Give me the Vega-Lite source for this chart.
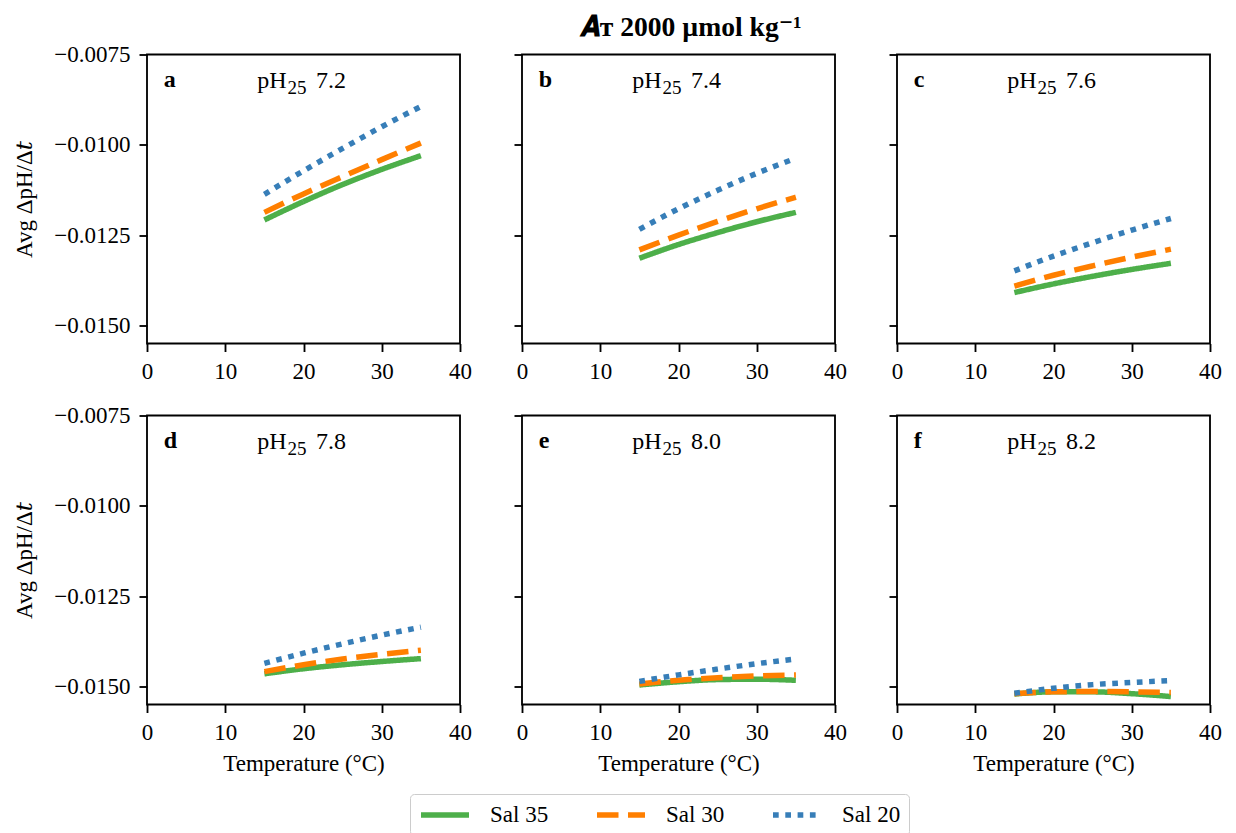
{
  "$schema": "https://vega.github.io/schema/vega-lite/v6.json",
  "padding": {"left": 12, "top": 13.5, "right": 10, "bottom": 10},
  "title": {
    "text": "𝑨ᴛ 2000 µmol kg⁻¹",
    "font": "Liberation Serif, DejaVu Serif",
    "fontSize": 27.6,
    "fontWeight": "bold",
    "color": "black",
    "anchor": "middle",
    "dx": 73,
    "offset": 1
  },
  "datasets": {
    "curves": [
      {"panel": "a", "series": "Sal 35", "temp": 15, "rate": -0.01208},
      {"panel": "a", "series": "Sal 35", "temp": 20, "rate": -0.01157},
      {"panel": "a", "series": "Sal 35", "temp": 25, "rate": -0.01110},
      {"panel": "a", "series": "Sal 35", "temp": 30, "rate": -0.01068},
      {"panel": "a", "series": "Sal 35", "temp": 35, "rate": -0.01030},
      {"panel": "b", "series": "Sal 35", "temp": 15, "rate": -0.01314},
      {"panel": "b", "series": "Sal 35", "temp": 20, "rate": -0.01276},
      {"panel": "b", "series": "Sal 35", "temp": 25, "rate": -0.01243},
      {"panel": "b", "series": "Sal 35", "temp": 30, "rate": -0.01213},
      {"panel": "b", "series": "Sal 35", "temp": 35, "rate": -0.01187},
      {"panel": "c", "series": "Sal 35", "temp": 15, "rate": -0.01409},
      {"panel": "c", "series": "Sal 35", "temp": 20, "rate": -0.01385},
      {"panel": "c", "series": "Sal 35", "temp": 25, "rate": -0.01364},
      {"panel": "c", "series": "Sal 35", "temp": 30, "rate": -0.01345},
      {"panel": "c", "series": "Sal 35", "temp": 35, "rate": -0.01328},
      {"panel": "d", "series": "Sal 35", "temp": 15, "rate": -0.01465},
      {"panel": "d", "series": "Sal 35", "temp": 20, "rate": -0.01451},
      {"panel": "d", "series": "Sal 35", "temp": 25, "rate": -0.01440},
      {"panel": "d", "series": "Sal 35", "temp": 30, "rate": -0.01431},
      {"panel": "d", "series": "Sal 35", "temp": 35, "rate": -0.01423},
      {"panel": "e", "series": "Sal 35", "temp": 15, "rate": -0.01496},
      {"panel": "e", "series": "Sal 35", "temp": 20, "rate": -0.01487},
      {"panel": "e", "series": "Sal 35", "temp": 25, "rate": -0.01481},
      {"panel": "e", "series": "Sal 35", "temp": 30, "rate": -0.01480},
      {"panel": "e", "series": "Sal 35", "temp": 35, "rate": -0.01483},
      {"panel": "f", "series": "Sal 35", "temp": 15, "rate": -0.01521},
      {"panel": "f", "series": "Sal 35", "temp": 20, "rate": -0.01515},
      {"panel": "f", "series": "Sal 35", "temp": 25, "rate": -0.01515},
      {"panel": "f", "series": "Sal 35", "temp": 30, "rate": -0.01520},
      {"panel": "f", "series": "Sal 35", "temp": 35, "rate": -0.01528},
      {"panel": "a", "series": "Sal 30", "temp": 15, "rate": -0.01187},
      {"panel": "a", "series": "Sal 30", "temp": 20, "rate": -0.01136},
      {"panel": "a", "series": "Sal 30", "temp": 25, "rate": -0.01088},
      {"panel": "a", "series": "Sal 30", "temp": 30, "rate": -0.01041},
      {"panel": "a", "series": "Sal 30", "temp": 35, "rate": -0.00995},
      {"panel": "b", "series": "Sal 30", "temp": 15, "rate": -0.01291},
      {"panel": "b", "series": "Sal 30", "temp": 20, "rate": -0.01250},
      {"panel": "b", "series": "Sal 30", "temp": 25, "rate": -0.01212},
      {"panel": "b", "series": "Sal 30", "temp": 30, "rate": -0.01177},
      {"panel": "b", "series": "Sal 30", "temp": 35, "rate": -0.01145},
      {"panel": "c", "series": "Sal 30", "temp": 15, "rate": -0.01391},
      {"panel": "c", "series": "Sal 30", "temp": 20, "rate": -0.01361},
      {"panel": "c", "series": "Sal 30", "temp": 25, "rate": -0.01335},
      {"panel": "c", "series": "Sal 30", "temp": 30, "rate": -0.01311},
      {"panel": "c", "series": "Sal 30", "temp": 35, "rate": -0.01289},
      {"panel": "d", "series": "Sal 30", "temp": 15, "rate": -0.01459},
      {"panel": "d", "series": "Sal 30", "temp": 20, "rate": -0.01440},
      {"panel": "d", "series": "Sal 30", "temp": 25, "rate": -0.01424},
      {"panel": "d", "series": "Sal 30", "temp": 30, "rate": -0.01411},
      {"panel": "d", "series": "Sal 30", "temp": 35, "rate": -0.01400},
      {"panel": "e", "series": "Sal 30", "temp": 15, "rate": -0.01493},
      {"panel": "e", "series": "Sal 30", "temp": 20, "rate": -0.01483},
      {"panel": "e", "series": "Sal 30", "temp": 25, "rate": -0.01476},
      {"panel": "e", "series": "Sal 30", "temp": 30, "rate": -0.01471},
      {"panel": "e", "series": "Sal 30", "temp": 35, "rate": -0.01468},
      {"panel": "f", "series": "Sal 30", "temp": 15, "rate": -0.01520},
      {"panel": "f", "series": "Sal 30", "temp": 20, "rate": -0.01515},
      {"panel": "f", "series": "Sal 30", "temp": 25, "rate": -0.01514},
      {"panel": "f", "series": "Sal 30", "temp": 30, "rate": -0.01515},
      {"panel": "f", "series": "Sal 30", "temp": 35, "rate": -0.01517},
      {"panel": "a", "series": "Sal 20", "temp": 15, "rate": -0.01137},
      {"panel": "a", "series": "Sal 20", "temp": 20, "rate": -0.01072},
      {"panel": "a", "series": "Sal 20", "temp": 25, "rate": -0.01010},
      {"panel": "a", "series": "Sal 20", "temp": 30, "rate": -0.00950},
      {"panel": "a", "series": "Sal 20", "temp": 35, "rate": -0.00894},
      {"panel": "b", "series": "Sal 20", "temp": 15, "rate": -0.01234},
      {"panel": "b", "series": "Sal 20", "temp": 20, "rate": -0.01177},
      {"panel": "b", "series": "Sal 20", "temp": 25, "rate": -0.01126},
      {"panel": "b", "series": "Sal 20", "temp": 30, "rate": -0.01079},
      {"panel": "b", "series": "Sal 20", "temp": 35, "rate": -0.01037},
      {"panel": "c", "series": "Sal 20", "temp": 15, "rate": -0.01349},
      {"panel": "c", "series": "Sal 20", "temp": 20, "rate": -0.01308},
      {"panel": "c", "series": "Sal 20", "temp": 25, "rate": -0.01271},
      {"panel": "c", "series": "Sal 20", "temp": 30, "rate": -0.01236},
      {"panel": "c", "series": "Sal 20", "temp": 35, "rate": -0.01204},
      {"panel": "d", "series": "Sal 20", "temp": 15, "rate": -0.01436},
      {"panel": "d", "series": "Sal 20", "temp": 20, "rate": -0.01408},
      {"panel": "d", "series": "Sal 20", "temp": 25, "rate": -0.01382},
      {"panel": "d", "series": "Sal 20", "temp": 30, "rate": -0.01358},
      {"panel": "d", "series": "Sal 20", "temp": 35, "rate": -0.01336},
      {"panel": "e", "series": "Sal 20", "temp": 15, "rate": -0.01486},
      {"panel": "e", "series": "Sal 20", "temp": 20, "rate": -0.01468},
      {"panel": "e", "series": "Sal 20", "temp": 25, "rate": -0.01452},
      {"panel": "e", "series": "Sal 20", "temp": 30, "rate": -0.01437},
      {"panel": "e", "series": "Sal 20", "temp": 35, "rate": -0.01424},
      {"panel": "f", "series": "Sal 20", "temp": 15, "rate": -0.01519},
      {"panel": "f", "series": "Sal 20", "temp": 20, "rate": -0.01505},
      {"panel": "f", "series": "Sal 20", "temp": 25, "rate": -0.01495},
      {"panel": "f", "series": "Sal 20", "temp": 30, "rate": -0.01489},
      {"panel": "f", "series": "Sal 20", "temp": 35, "rate": -0.01484}
    ],
    "panels": [
      {"panel": "a", "base": "pH", "sub": "25", "value": "7.2"},
      {"panel": "b", "base": "pH", "sub": "25", "value": "7.4"},
      {"panel": "c", "base": "pH", "sub": "25", "value": "7.6"},
      {"panel": "d", "base": "pH", "sub": "25", "value": "7.8"},
      {"panel": "e", "base": "pH", "sub": "25", "value": "8.0"},
      {"panel": "f", "base": "pH", "sub": "25", "value": "8.2"}
    ]
  },
  "columns": 3,
  "bounds": "flush",
  "spacing": {"row": 72, "column": 62},
  "resolve": {
    "scale": {"color": "shared", "strokeDash": "shared"},
    "legend": {"color": "shared", "strokeDash": "shared"}
  },
  "concat": [
    {
      "width": 313, "height": 289,
      "layer": [
        {
          "data": {"name": "curves"},
          "transform": [{"filter": "datum.panel === 'a'"}],
          "mark": {"type": "line", "interpolate": "monotone", "strokeWidth": 5.5},
          "encoding": {
            "x": {"field": "temp", "type": "quantitative", "scale": {"domain": [0, 40], "nice": false}, "axis": {"values": [0, 10, 20, 30, 40], "title": null}},
            "y": {"field": "rate", "type": "quantitative", "scale": {"domain": [-0.0155, -0.0075], "nice": false, "zero": false}, "axis": {"values": [-0.0075, -0.01, -0.0125, -0.015], "format": ".4f", "title": "Avg ΔpH/Δ𝑡"}},
            "color": {"field": "series", "type": "nominal", "scale": {"domain": ["Sal 35", "Sal 30", "Sal 20"], "range": ["#4daf4a", "#ff7f00", "#377eb8"]}, "legend": {"title": null}},
            "strokeDash": {"field": "series", "type": "nominal", "scale": {"domain": ["Sal 35", "Sal 30", "Sal 20"], "range": [[1, 0], [21.5, 9.5], [5.7, 6.6]]}, "legend": {"title": null}}
          }
        },
        {
          "data": {"name": "panels"},
          "transform": [{"filter": "datum.panel === 'a'"}],
          "mark": {"type": "text", "align": "left", "baseline": "alphabetic", "fontWeight": "bold", "fontSize": 24},
          "encoding": {"x": {"datum": 2.15, "type": "quantitative"}, "y": {"datum": -0.0084, "type": "quantitative"}, "text": {"field": "panel"}}
        },
        {
          "data": {"name": "panels"},
          "transform": [{"filter": "datum.panel === 'a'"}],
          "mark": {"type": "text", "align": "left", "baseline": "alphabetic", "fontSize": 24},
          "encoding": {"x": {"datum": 14.1, "type": "quantitative"}, "y": {"datum": -0.00843, "type": "quantitative"}, "text": {"field": "base"}}
        },
        {
          "data": {"name": "panels"},
          "transform": [{"filter": "datum.panel === 'a'"}],
          "mark": {"type": "text", "align": "left", "baseline": "alphabetic", "fontSize": 19, "dy": 6},
          "encoding": {"x": {"datum": 17.95, "type": "quantitative"}, "y": {"datum": -0.00843, "type": "quantitative"}, "text": {"field": "sub"}}
        },
        {
          "data": {"name": "panels"},
          "transform": [{"filter": "datum.panel === 'a'"}],
          "mark": {"type": "text", "align": "left", "baseline": "alphabetic", "fontSize": 24},
          "encoding": {"x": {"datum": 21.6, "type": "quantitative"}, "y": {"datum": -0.00843, "type": "quantitative"}, "text": {"field": "value"}}
        }
      ]
    },
    {
      "width": 313, "height": 289,
      "layer": [
        {
          "data": {"name": "curves"},
          "transform": [{"filter": "datum.panel === 'b'"}],
          "mark": {"type": "line", "interpolate": "monotone", "strokeWidth": 5.5},
          "encoding": {
            "x": {"field": "temp", "type": "quantitative", "scale": {"domain": [0, 40], "nice": false}, "axis": {"values": [0, 10, 20, 30, 40], "title": null}},
            "y": {"field": "rate", "type": "quantitative", "scale": {"domain": [-0.0155, -0.0075], "nice": false, "zero": false}, "axis": {"values": [-0.0075, -0.01, -0.0125, -0.015], "labels": false, "title": null}},
            "color": {"field": "series", "type": "nominal", "scale": {"domain": ["Sal 35", "Sal 30", "Sal 20"], "range": ["#4daf4a", "#ff7f00", "#377eb8"]}, "legend": {"title": null}},
            "strokeDash": {"field": "series", "type": "nominal", "scale": {"domain": ["Sal 35", "Sal 30", "Sal 20"], "range": [[1, 0], [21.5, 9.5], [5.7, 6.6]]}, "legend": {"title": null}}
          }
        },
        {
          "data": {"name": "panels"},
          "transform": [{"filter": "datum.panel === 'b'"}],
          "mark": {"type": "text", "align": "left", "baseline": "alphabetic", "fontWeight": "bold", "fontSize": 24},
          "encoding": {"x": {"datum": 2.15, "type": "quantitative"}, "y": {"datum": -0.0084, "type": "quantitative"}, "text": {"field": "panel"}}
        },
        {
          "data": {"name": "panels"},
          "transform": [{"filter": "datum.panel === 'b'"}],
          "mark": {"type": "text", "align": "left", "baseline": "alphabetic", "fontSize": 24},
          "encoding": {"x": {"datum": 14.1, "type": "quantitative"}, "y": {"datum": -0.00843, "type": "quantitative"}, "text": {"field": "base"}}
        },
        {
          "data": {"name": "panels"},
          "transform": [{"filter": "datum.panel === 'b'"}],
          "mark": {"type": "text", "align": "left", "baseline": "alphabetic", "fontSize": 19, "dy": 6},
          "encoding": {"x": {"datum": 17.95, "type": "quantitative"}, "y": {"datum": -0.00843, "type": "quantitative"}, "text": {"field": "sub"}}
        },
        {
          "data": {"name": "panels"},
          "transform": [{"filter": "datum.panel === 'b'"}],
          "mark": {"type": "text", "align": "left", "baseline": "alphabetic", "fontSize": 24},
          "encoding": {"x": {"datum": 21.6, "type": "quantitative"}, "y": {"datum": -0.00843, "type": "quantitative"}, "text": {"field": "value"}}
        }
      ]
    },
    {
      "width": 313, "height": 289,
      "layer": [
        {
          "data": {"name": "curves"},
          "transform": [{"filter": "datum.panel === 'c'"}],
          "mark": {"type": "line", "interpolate": "monotone", "strokeWidth": 5.5},
          "encoding": {
            "x": {"field": "temp", "type": "quantitative", "scale": {"domain": [0, 40], "nice": false}, "axis": {"values": [0, 10, 20, 30, 40], "title": null}},
            "y": {"field": "rate", "type": "quantitative", "scale": {"domain": [-0.0155, -0.0075], "nice": false, "zero": false}, "axis": {"values": [-0.0075, -0.01, -0.0125, -0.015], "labels": false, "title": null}},
            "color": {"field": "series", "type": "nominal", "scale": {"domain": ["Sal 35", "Sal 30", "Sal 20"], "range": ["#4daf4a", "#ff7f00", "#377eb8"]}, "legend": {"title": null}},
            "strokeDash": {"field": "series", "type": "nominal", "scale": {"domain": ["Sal 35", "Sal 30", "Sal 20"], "range": [[1, 0], [21.5, 9.5], [5.7, 6.6]]}, "legend": {"title": null}}
          }
        },
        {
          "data": {"name": "panels"},
          "transform": [{"filter": "datum.panel === 'c'"}],
          "mark": {"type": "text", "align": "left", "baseline": "alphabetic", "fontWeight": "bold", "fontSize": 24},
          "encoding": {"x": {"datum": 2.15, "type": "quantitative"}, "y": {"datum": -0.0084, "type": "quantitative"}, "text": {"field": "panel"}}
        },
        {
          "data": {"name": "panels"},
          "transform": [{"filter": "datum.panel === 'c'"}],
          "mark": {"type": "text", "align": "left", "baseline": "alphabetic", "fontSize": 24},
          "encoding": {"x": {"datum": 14.1, "type": "quantitative"}, "y": {"datum": -0.00843, "type": "quantitative"}, "text": {"field": "base"}}
        },
        {
          "data": {"name": "panels"},
          "transform": [{"filter": "datum.panel === 'c'"}],
          "mark": {"type": "text", "align": "left", "baseline": "alphabetic", "fontSize": 19, "dy": 6},
          "encoding": {"x": {"datum": 17.95, "type": "quantitative"}, "y": {"datum": -0.00843, "type": "quantitative"}, "text": {"field": "sub"}}
        },
        {
          "data": {"name": "panels"},
          "transform": [{"filter": "datum.panel === 'c'"}],
          "mark": {"type": "text", "align": "left", "baseline": "alphabetic", "fontSize": 24},
          "encoding": {"x": {"datum": 21.6, "type": "quantitative"}, "y": {"datum": -0.00843, "type": "quantitative"}, "text": {"field": "value"}}
        }
      ]
    },
    {
      "width": 313, "height": 289,
      "layer": [
        {
          "data": {"name": "curves"},
          "transform": [{"filter": "datum.panel === 'd'"}],
          "mark": {"type": "line", "interpolate": "monotone", "strokeWidth": 5.5},
          "encoding": {
            "x": {"field": "temp", "type": "quantitative", "scale": {"domain": [0, 40], "nice": false}, "axis": {"values": [0, 10, 20, 30, 40], "title": "Temperature (°C)"}},
            "y": {"field": "rate", "type": "quantitative", "scale": {"domain": [-0.0155, -0.0075], "nice": false, "zero": false}, "axis": {"values": [-0.0075, -0.01, -0.0125, -0.015], "format": ".4f", "title": "Avg ΔpH/Δ𝑡"}},
            "color": {"field": "series", "type": "nominal", "scale": {"domain": ["Sal 35", "Sal 30", "Sal 20"], "range": ["#4daf4a", "#ff7f00", "#377eb8"]}, "legend": {"title": null}},
            "strokeDash": {"field": "series", "type": "nominal", "scale": {"domain": ["Sal 35", "Sal 30", "Sal 20"], "range": [[1, 0], [21.5, 9.5], [5.7, 6.6]]}, "legend": {"title": null}}
          }
        },
        {
          "data": {"name": "panels"},
          "transform": [{"filter": "datum.panel === 'd'"}],
          "mark": {"type": "text", "align": "left", "baseline": "alphabetic", "fontWeight": "bold", "fontSize": 24},
          "encoding": {"x": {"datum": 2.15, "type": "quantitative"}, "y": {"datum": -0.0084, "type": "quantitative"}, "text": {"field": "panel"}}
        },
        {
          "data": {"name": "panels"},
          "transform": [{"filter": "datum.panel === 'd'"}],
          "mark": {"type": "text", "align": "left", "baseline": "alphabetic", "fontSize": 24},
          "encoding": {"x": {"datum": 14.1, "type": "quantitative"}, "y": {"datum": -0.00843, "type": "quantitative"}, "text": {"field": "base"}}
        },
        {
          "data": {"name": "panels"},
          "transform": [{"filter": "datum.panel === 'd'"}],
          "mark": {"type": "text", "align": "left", "baseline": "alphabetic", "fontSize": 19, "dy": 6},
          "encoding": {"x": {"datum": 17.95, "type": "quantitative"}, "y": {"datum": -0.00843, "type": "quantitative"}, "text": {"field": "sub"}}
        },
        {
          "data": {"name": "panels"},
          "transform": [{"filter": "datum.panel === 'd'"}],
          "mark": {"type": "text", "align": "left", "baseline": "alphabetic", "fontSize": 24},
          "encoding": {"x": {"datum": 21.6, "type": "quantitative"}, "y": {"datum": -0.00843, "type": "quantitative"}, "text": {"field": "value"}}
        }
      ]
    },
    {
      "width": 313, "height": 289,
      "layer": [
        {
          "data": {"name": "curves"},
          "transform": [{"filter": "datum.panel === 'e'"}],
          "mark": {"type": "line", "interpolate": "monotone", "strokeWidth": 5.5},
          "encoding": {
            "x": {"field": "temp", "type": "quantitative", "scale": {"domain": [0, 40], "nice": false}, "axis": {"values": [0, 10, 20, 30, 40], "title": "Temperature (°C)"}},
            "y": {"field": "rate", "type": "quantitative", "scale": {"domain": [-0.0155, -0.0075], "nice": false, "zero": false}, "axis": {"values": [-0.0075, -0.01, -0.0125, -0.015], "labels": false, "title": null}},
            "color": {"field": "series", "type": "nominal", "scale": {"domain": ["Sal 35", "Sal 30", "Sal 20"], "range": ["#4daf4a", "#ff7f00", "#377eb8"]}, "legend": {"title": null}},
            "strokeDash": {"field": "series", "type": "nominal", "scale": {"domain": ["Sal 35", "Sal 30", "Sal 20"], "range": [[1, 0], [21.5, 9.5], [5.7, 6.6]]}, "legend": {"title": null}}
          }
        },
        {
          "data": {"name": "panels"},
          "transform": [{"filter": "datum.panel === 'e'"}],
          "mark": {"type": "text", "align": "left", "baseline": "alphabetic", "fontWeight": "bold", "fontSize": 24},
          "encoding": {"x": {"datum": 2.15, "type": "quantitative"}, "y": {"datum": -0.0084, "type": "quantitative"}, "text": {"field": "panel"}}
        },
        {
          "data": {"name": "panels"},
          "transform": [{"filter": "datum.panel === 'e'"}],
          "mark": {"type": "text", "align": "left", "baseline": "alphabetic", "fontSize": 24},
          "encoding": {"x": {"datum": 14.1, "type": "quantitative"}, "y": {"datum": -0.00843, "type": "quantitative"}, "text": {"field": "base"}}
        },
        {
          "data": {"name": "panels"},
          "transform": [{"filter": "datum.panel === 'e'"}],
          "mark": {"type": "text", "align": "left", "baseline": "alphabetic", "fontSize": 19, "dy": 6},
          "encoding": {"x": {"datum": 17.95, "type": "quantitative"}, "y": {"datum": -0.00843, "type": "quantitative"}, "text": {"field": "sub"}}
        },
        {
          "data": {"name": "panels"},
          "transform": [{"filter": "datum.panel === 'e'"}],
          "mark": {"type": "text", "align": "left", "baseline": "alphabetic", "fontSize": 24},
          "encoding": {"x": {"datum": 21.6, "type": "quantitative"}, "y": {"datum": -0.00843, "type": "quantitative"}, "text": {"field": "value"}}
        }
      ]
    },
    {
      "width": 313, "height": 289,
      "layer": [
        {
          "data": {"name": "curves"},
          "transform": [{"filter": "datum.panel === 'f'"}],
          "mark": {"type": "line", "interpolate": "monotone", "strokeWidth": 5.5},
          "encoding": {
            "x": {"field": "temp", "type": "quantitative", "scale": {"domain": [0, 40], "nice": false}, "axis": {"values": [0, 10, 20, 30, 40], "title": "Temperature (°C)"}},
            "y": {"field": "rate", "type": "quantitative", "scale": {"domain": [-0.0155, -0.0075], "nice": false, "zero": false}, "axis": {"values": [-0.0075, -0.01, -0.0125, -0.015], "labels": false, "title": null}},
            "color": {"field": "series", "type": "nominal", "scale": {"domain": ["Sal 35", "Sal 30", "Sal 20"], "range": ["#4daf4a", "#ff7f00", "#377eb8"]}, "legend": {"title": null}},
            "strokeDash": {"field": "series", "type": "nominal", "scale": {"domain": ["Sal 35", "Sal 30", "Sal 20"], "range": [[1, 0], [21.5, 9.5], [5.7, 6.6]]}, "legend": {"title": null}}
          }
        },
        {
          "data": {"name": "panels"},
          "transform": [{"filter": "datum.panel === 'f'"}],
          "mark": {"type": "text", "align": "left", "baseline": "alphabetic", "fontWeight": "bold", "fontSize": 24},
          "encoding": {"x": {"datum": 2.15, "type": "quantitative"}, "y": {"datum": -0.0084, "type": "quantitative"}, "text": {"field": "panel"}}
        },
        {
          "data": {"name": "panels"},
          "transform": [{"filter": "datum.panel === 'f'"}],
          "mark": {"type": "text", "align": "left", "baseline": "alphabetic", "fontSize": 24},
          "encoding": {"x": {"datum": 14.1, "type": "quantitative"}, "y": {"datum": -0.00843, "type": "quantitative"}, "text": {"field": "base"}}
        },
        {
          "data": {"name": "panels"},
          "transform": [{"filter": "datum.panel === 'f'"}],
          "mark": {"type": "text", "align": "left", "baseline": "alphabetic", "fontSize": 19, "dy": 6},
          "encoding": {"x": {"datum": 17.95, "type": "quantitative"}, "y": {"datum": -0.00843, "type": "quantitative"}, "text": {"field": "sub"}}
        },
        {
          "data": {"name": "panels"},
          "transform": [{"filter": "datum.panel === 'f'"}],
          "mark": {"type": "text", "align": "left", "baseline": "alphabetic", "fontSize": 24},
          "encoding": {"x": {"datum": 21.6, "type": "quantitative"}, "y": {"datum": -0.00843, "type": "quantitative"}, "text": {"field": "value"}}
        }
      ]
    }
  ],
  "config": {
    "font": "Liberation Serif",
    "background": "white",
    "view": {"stroke": "black", "strokeWidth": 1.84},
    "text": {"color": "black", "font": "Liberation Serif"},
    "style": {
      "guide-label": {"font": "Liberation Serif", "fontSize": 23, "fill": "black"},
      "guide-title": {"font": "Liberation Serif"}
    },
    "axis": {
      "grid": false,
      "domain": false,
      "ticks": true,
      "tickColor": "black",
      "tickWidth": 1.84,
      "tickSize": 8,
      "labelFont": "Liberation Serif",
      "labelFontSize": 23,
      "labelColor": "black",
      "labelPadding": 9,
      "labelFlush": false,
      "labelOverlap": false,
      "titleFont": "Liberation Serif, DejaVu Serif",
      "titleFontSize": 23,
      "titleFontWeight": "normal",
      "titleColor": "black"
    },
    "axisX": {"titlePadding": 8},
    "axisY": {"titlePadding": 17},
    "legend": {
      "orient": "none",
      "legendX": 263,
      "legendY": 739.5,
      "direction": "horizontal",
      "symbolType": "M-2.4,0H2.4",
      "symbolSize": 400,
      "symbolOffset": 14,
      "symbolStrokeWidth": 5.5,
      "labelFont": "Liberation Serif",
      "labelFontSize": 23,
      "labelColor": "black",
      "labelOffset": 32,
      "columnPadding": 37,
      "padding": 8,
      "strokeColor": "#cccccc",
      "cornerRadius": 4,
      "fillColor": "white"
    }
  }
}
